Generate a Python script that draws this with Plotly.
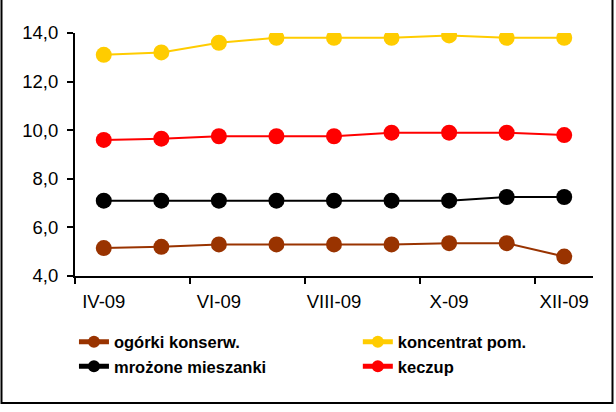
import plotly.graph_objects as go

months = ["IV-09", "V-09", "VI-09", "VII-09", "VIII-09", "IX-09", "X-09", "XI-09", "XII-09"]
ogorki = [5.15, 5.2, 5.3, 5.3, 5.3, 5.3, 5.35, 5.35, 4.8]
koncentrat = [13.1, 13.2, 13.6, 13.8, 13.8, 13.8, 13.9, 13.8, 13.8]
mrozone = [7.1, 7.1, 7.1, 7.1, 7.1, 7.1, 7.1, 7.25, 7.25]
keczup = [9.6, 9.65, 9.75, 9.75, 9.75, 9.9, 9.9, 9.9, 9.8]
y_ticks = [4, 6, 8, 10, 12, 14]
x_label_idx = [0, 2, 4, 6, 8]
x_tick_bounds = [-0.5, 1.5, 3.5, 5.5, 7.5]

xs = list(range(len(months)))
series = [
    ("ogórki konserw.", ogorki, "#993300", "legend"),
    ("mrożone mieszanki", mrozone, "#000000", "legend"),
    ("koncentrat pom.", koncentrat, "#FFCC00", "legend2"),
    ("keczup", keczup, "#FF0000", "legend2"),
]

fig = go.Figure()
for name, vals, col, lg in series:
    fig.add_trace(go.Scatter(
        x=xs, y=vals, name=name, mode="lines+markers",
        line=dict(color=col, width=2),
        marker=dict(color=col, size=16),
        legend=lg,
    ))

L, R, T, B = 75, 23, 33, 136
W, H = 616, 412
pw, ph = W - L - R, H - T - B

legend_font = dict(size=16.5, family="Liberation Sans, Arial, sans-serif", weight="bold")
fig.update_layout(
    width=W, height=H,
    margin=dict(l=L, r=R, t=T, b=B, autoexpand=False),
    paper_bgcolor="white", plot_bgcolor="white",
    separators=", ",
    font=dict(family="Liberation Sans, Arial, sans-serif", size=18.5, color="black"),
    showlegend=True,
    legend=dict(
        orientation="v", x=-0.002, xanchor="left", y=-0.2, yanchor="top",
        font=legend_font, itemsizing="constant", tracegroupgap=0,
        bgcolor="rgba(0,0,0,0)",
    ),
    legend2=dict(
        orientation="v", x=0.546, xanchor="left", y=-0.2, yanchor="top",
        font=legend_font, itemsizing="constant", tracegroupgap=0,
        bgcolor="rgba(0,0,0,0)",
    ),
)
fig.update_xaxes(
    range=[-0.5, len(months) - 0.5],
    tickmode="array",
    tickvals=x_label_idx,
    ticktext=[months[i] for i in x_label_idx],
    ticks="",
    showline=True, linecolor="black", linewidth=2,
    showgrid=False, zeroline=False,
    ticklabelstandoff=8,
    minor=dict(tickmode="array", tickvals=x_tick_bounds, ticks="outside",
               ticklen=6, tickwidth=2, tickcolor="black", showgrid=False),
)
fig.update_yaxes(
    range=[4, 14],
    tickmode="array", tickvals=y_ticks,
    tickformat=".1f",
    ticks="outside", ticklen=6, tickwidth=2, tickcolor="black",
    showline=True, linecolor="black", linewidth=2,
    showgrid=False, zeroline=False,
    ticklabelstandoff=5,
)
# outer chart frame
fig.add_shape(
    type="rect", xref="paper", yref="paper",
    x0=(1.5 - L) / pw, x1=(612.5 - L) / pw,
    y0=(T + ph - 403) / ph, y1=(T + ph + 2) / ph,
    line=dict(color="black", width=2), fillcolor="rgba(0,0,0,0)", layer="below",
)

fig.write_html(
    "out.html",
    config={"displayModeBar": False},
    post_script="document.body.style.margin='0';document.body.style.overflow='hidden';",
)
